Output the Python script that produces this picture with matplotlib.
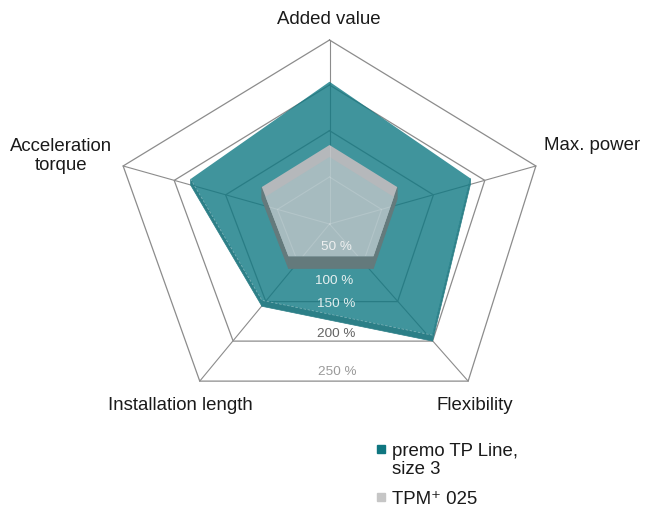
import numpy as np
import matplotlib
matplotlib.use("Agg")
import matplotlib.pyplot as plt
from matplotlib.patches import Polygon

plt.rcParams['font.family'] = ['Liberation Sans', 'DejaVu Sans']

# data
categories = ["Added value", "Max. power", "Flexibility", "Installation length", "Acceleration\ntorque"]
premo = [197, 186, 200, 156, 184]
tpm = [115, 115, 115, 115, 115]
ring_values = [50, 100, 150, 200, 250]
ring_labels = ["50 %", "100 %", "150 %", "200 %", "250 %"]
legend_labels = ["premo TP Line,\nsize 3", "TPM\u207a 025"]

# tilted view of the radar plane (slight perspective)
cx, cy = 329.5, 224
sx, sy = 220, 189.5
px, py = 0.045, 0.03
skew = 5.5
angles = np.deg2rad(np.arange(len(categories)) * 72)


def proj(v, a, lift=0):
    r = (np.asarray(v, dtype=float) - 50) / 200
    X = r * np.sin(a)
    Y = r * np.cos(a)
    x = cx + sx * X / (1 + px * Y) + skew * np.maximum(-Y, 0)
    y = cy - sy * Y / (1 + py * Y) - lift
    return x, y


def poly_pts(vals, lift=0):
    x, y = proj(vals, angles, lift)
    return np.column_stack([x, y])


def front_walls(vals, lift_lo, lift_hi):
    lo = poly_pts(vals, lift_lo)
    hi = poly_pts(vals, lift_hi)
    c = lo.mean(axis=0)
    quads = []
    n = len(lo)
    for i in range(n):
        j = (i + 1) % n
        e = lo[j] - lo[i]
        nrm = np.array([e[1], -e[0]])
        if np.dot(nrm, (lo[i] + lo[j]) / 2 - c) < 0:
            nrm = -nrm
        if nrm[1] > 0:
            quads.append([lo[i], lo[j], hi[j], hi[i]])
    return quads


fig = plt.figure(figsize=(6.45, 5.08), dpi=100)
ax = fig.add_axes([0, 0, 1, 1])
ax.set_xlim(0, 645)
ax.set_ylim(508, 0)
ax.axis('off')


def draw_grid(color, lw_ring, lw_spoke, z, alpha=1.0, clip=None):
    arts = []
    for v in ring_values[1:]:
        p = poly_pts([v] * 5)
        p = np.vstack([p, p[:1]])
        arts += ax.plot(p[:, 0], p[:, 1], color=color, lw=lw_ring, zorder=z, alpha=alpha)
    for a in angles:
        x0, y0 = proj(50, a)
        x1, y1 = proj(250, a)
        arts += ax.plot([x0, x1], [y0, y1], color=color, lw=lw_spoke, zorder=z, alpha=alpha)
    if clip is not None:
        for art in arts:
            art.set_clip_path(clip)


draw_grid('#8c8c8c', 0.9, 0.8, 1)

# premo TP Line, size 3 (slightly extruded)
teal_lift = 6
for q in front_walls(premo, 0, teal_lift):
    ax.add_patch(Polygon(q, closed=True, facecolor='#2c7f87', edgecolor='#2c7f87', lw=0.5, zorder=2))
teal_top = Polygon(poly_pts(premo, teal_lift), closed=True, facecolor=(16/255, 121/255, 131/255),
                   alpha=0.8, edgecolor='none', zorder=3)
ax.add_patch(teal_top)
tp = poly_pts(premo, teal_lift)
ax.plot(tp[2:5, 0], tp[2:5, 1], color='white', lw=0.6, ls=(0, (3, 2)), alpha=0.35, zorder=3.5)

# TPM+ 025 (sits on top of the teal plate)
g_lo, g_hi = teal_lift, teal_lift + 12
for q in front_walls(tpm, g_lo, g_hi):
    ax.add_patch(Polygon(q, closed=True, facecolor='#647a7c', edgecolor='#647a7c', lw=0.5, zorder=4))
gray_top = Polygon(poly_pts(tpm, g_hi), closed=True, facecolor='#b5b8bb', edgecolor='none', zorder=5)
ax.add_patch(gray_top)
gray_in = Polygon(poly_pts(tpm, g_lo), closed=True, facecolor='#a6bbbf', edgecolor='none', zorder=6)
ax.add_patch(gray_in)
gray_in.set_clip_path(gray_top)
draw_grid('white', 0.8, 0.8, 6.5, alpha=0.15, clip=gray_top)

# ring labels along the bottom
label_dy = [23, 18, 2, -7, -9]
label_dx = [7, 4, 4, 3, 3]
label_col = ['#eef0f0', '#e6f0f0', '#e2eeee', '#636363', '#9a9a9a']
for v, s, dy, dx, c in zip(ring_values, ring_labels, label_dy, label_dx, label_col):
    x, y = proj(v * 0.809 + 50 * 0.191, np.pi)
    ax.text(x + dx, y + dy, s, ha='center', va='center', fontsize=9.7, color=c, zorder=8)

# category labels (left edge, vertical centre)
cat_pos = [(277, 20), (544, 146), (437, 406), (108, 406), (10, 156)]
for (x, y), s in zip(cat_pos, categories):
    ax.text(x, y, s, ha='left', va='center', multialignment='center', fontsize=13.4,
            color='#1a1a1a', linespacing=1.1, zorder=8)

# legend, drawn by hand so the square sits on the first text line
leg_colors = ['#0f7680', '#c6c6c6']
leg_y = [449, 497]
for s, c, y in zip(legend_labels, leg_colors, leg_y):
    ax.plot([381], [y], ls='none', marker='s', markersize=6, color=c, zorder=8)
    ax.text(392, y - 6, s, ha='left', va='top', fontsize=13.4, color='#1a1a1a',
            linespacing=1.1, zorder=8)

fig.savefig("out.png", dpi=100)
